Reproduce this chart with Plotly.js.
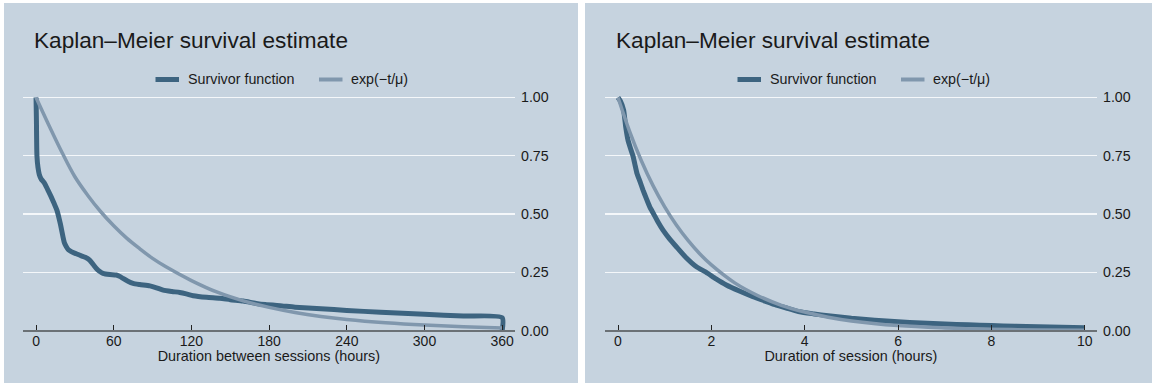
<!DOCTYPE html>
<html>
<head>
<meta charset="utf-8">
<script src="https://cdn.plot.ly/plotly-3.0.1.min.js"></script>
<style>html,body{margin:0;padding:0;background:#fff;}#chart{width:1156px;height:386px;}</style>
</head>
<body>
<div id="chart"></div>
<script>
// ---- data ----
const chartTitle = "Kaplan–Meier survival estimate";
const seriesNames = ["Survivor function", "exp(−t/μ)"];

// Left panel: duration between sessions (hours)
const leftTime = [0, 0.3, 0.7, 1.5, 2.5, 4, 6.6, 9, 11.7, 14, 16.1, 18.7, 20.8, 22, 23.4, 25, 27.2, 31, 35, 38, 41.4, 44, 46.6, 49, 51.7, 57, 62, 65, 67.2, 71, 74.9, 80, 87.9, 93, 98.2, 105, 111, 116, 121.4, 131.7, 142, 150, 160, 170, 177, 190, 200, 220, 240, 266, 300, 330, 360, 360];
const leftSurv = [1, 0.9, 0.75, 0.7, 0.67, 0.65, 0.632, 0.605, 0.574, 0.545, 0.517, 0.46, 0.403, 0.375, 0.36, 0.347, 0.339, 0.33, 0.321, 0.315, 0.303, 0.285, 0.267, 0.255, 0.246, 0.241, 0.239, 0.232, 0.224, 0.212, 0.203, 0.198, 0.192, 0.184, 0.174, 0.168, 0.164, 0.158, 0.15, 0.143, 0.139, 0.133, 0.127, 0.117, 0.112, 0.106, 0.101, 0.094, 0.087, 0.079, 0.07, 0.063, 0.056, 0];
const leftExpTime = [0, 10, 20, 30, 40, 50, 60, 70, 80, 90, 100, 120, 140, 160, 180, 200, 220, 240, 270, 300, 330, 360];
const leftExp = [1, 0.88, 0.765, 0.66, 0.58, 0.51, 0.45, 0.397, 0.352, 0.31, 0.275, 0.215, 0.165, 0.128, 0.1, 0.078, 0.061, 0.048, 0.034, 0.024, 0.017, 0.012];

// Right panel: duration of session (hours)
const rightTime = [0, 0.05, 0.12, 0.165, 0.214, 0.27, 0.32, 0.36, 0.407, 0.47, 0.536, 0.61, 0.68, 0.765, 0.86, 0.964, 1.1, 1.25, 1.45, 1.68, 1.89, 2.1, 2.32, 2.6, 2.89, 3.15, 3.39, 3.65, 3.89, 4.2, 4.5, 5, 5.5, 6, 6.5, 7, 7.5, 8, 8.5, 9, 9.5, 10];
const rightSurv = [1, 0.985, 0.946, 0.874, 0.817, 0.78, 0.75, 0.715, 0.674, 0.64, 0.603, 0.565, 0.531, 0.5, 0.465, 0.431, 0.395, 0.36, 0.315, 0.274, 0.25, 0.222, 0.196, 0.17, 0.146, 0.127, 0.11, 0.095, 0.081, 0.072, 0.064, 0.053, 0.045, 0.038, 0.033, 0.029, 0.025, 0.022, 0.019, 0.017, 0.015, 0.013];
const rightExpTime = [0, 0.25, 0.5, 0.75, 1, 1.25, 1.5, 1.75, 2, 2.5, 3, 3.5, 4, 4.5, 5, 6, 7, 8, 9, 10];
const rightExp = [1, 0.854, 0.729, 0.622, 0.531, 0.453, 0.387, 0.33, 0.282, 0.205, 0.15, 0.109, 0.08, 0.058, 0.042, 0.022, 0.012, 0.0063, 0.0034, 0.0018];

const leftTicks = [0, 60, 120, 180, 240, 300, 360];
const rightTicks = [0, 2, 4, 6, 8, 10];
const yTicks = [0, 0.25, 0.5, 0.75, 1];
const yTickLabels = ["0.00", "0.25", "0.50", "0.75", "1.00"];
const leftXTitle = "Duration between sessions (hours)";
const rightXTitle = "Duration of session (hours)";

// ---- styling ----
const W = 1156, H = 386;
const FONT = "Liberation Sans, Arial, Helvetica, sans-serif";
const BG = "#c6d3df";
const DARK = "#3d6480";
const LIGHT = "#8097ad";
const AXIS = "#6b7176";
const TXT = "#1a1a1a";
const px = v => v / W;
const py = v => (H - v) / H;

const traces = [
  {x: leftTime, y: leftSurv, xaxis: "x", yaxis: "y", mode: "lines", name: seriesNames[0],
   line: {color: DARK, width: 5, shape: "spline", smoothing: 0.6}, showlegend: false, hoverinfo: "skip"},
  {x: leftExpTime, y: leftExp, xaxis: "x", yaxis: "y", mode: "lines", name: seriesNames[1],
   line: {color: LIGHT, width: 3.5, shape: "spline"}, showlegend: false, hoverinfo: "skip"},
  {x: rightTime, y: rightSurv, xaxis: "x2", yaxis: "y2", mode: "lines", name: seriesNames[0],
   line: {color: DARK, width: 5, shape: "spline", smoothing: 0.5}, showlegend: false, hoverinfo: "skip"},
  {x: rightExpTime, y: rightExp, xaxis: "x2", yaxis: "y2", mode: "lines", name: seriesNames[1],
   line: {color: LIGHT, width: 3.5, shape: "spline"}, showlegend: false, hoverinfo: "skip"}
];

const yDomain = [py(340), py(88)];
const yRange = [-0.0399, 1.0407];
const axisPos = py(330.7);

function xAxis(domain, range, ticks, title) {
  return {
    domain: domain, range: range, anchor: "free", position: axisPos,
    tickmode: "array", tickvals: ticks, ticktext: ticks.map(String),
    ticks: "inside", ticklen: 5, tickwidth: 1, tickcolor: "#222",
    ticklabelstandoff: -3,
    showline: true, linecolor: AXIS, linewidth: 2,
    showgrid: false, zeroline: false,
    tickfont: {family: FONT, size: 14, color: TXT},
    title: {text: title, font: {family: FONT, size: 14.4, color: TXT}, standoff: 0},
    fixedrange: true
  };
}
function yAxis(anchorX) {
  return {
    domain: yDomain, range: yRange, anchor: anchorX, side: "right",
    tickmode: "array", tickvals: yTicks, ticktext: yTickLabels,
    ticks: "", ticklabelstandoff: 5,
    showline: false, zeroline: false,
    showgrid: true, gridcolor: "#f4f7fa", gridwidth: 1.3,
    tickfont: {family: FONT, size: 14.2, color: TXT},
    fixedrange: true
  };
}

const offset = 582;
const shapes = [
  {type: "rect", xref: "paper", yref: "paper", x0: px(4), x1: px(578), y0: py(383), y1: py(3), fillcolor: BG, line: {width: 0}, layer: "below"},
  {type: "rect", xref: "paper", yref: "paper", x0: px(585), x1: px(1152), y0: py(383), y1: py(3), fillcolor: BG, line: {width: 0}, layer: "below"}
];
const annotations = [];
[0, offset].forEach(o => {
  annotations.push({xref: "paper", yref: "paper", x: px(32 + o), y: py(40.5), xanchor: "left", yanchor: "middle",
    text: chartTitle, showarrow: false, font: {family: FONT, size: 22.6, color: TXT}});
  // legend
  shapes.push({type: "line", xref: "paper", yref: "paper", x0: px(155.5 + o), x1: px(179 + o), y0: py(79.5), y1: py(79.5), line: {color: DARK, width: 5}});
  shapes.push({type: "line", xref: "paper", yref: "paper", x0: px(319 + o), x1: px(342.5 + o), y0: py(79.5), y1: py(79.5), line: {color: LIGHT, width: 4}});
  annotations.push({xref: "paper", yref: "paper", x: px(186 + o), y: py(79.5), xanchor: "left", yanchor: "middle",
    text: seriesNames[0], showarrow: false, font: {family: FONT, size: 14.3, color: TXT}});
  annotations.push({xref: "paper", yref: "paper", x: px(349 + o), y: py(79.5), xanchor: "left", yanchor: "middle",
    text: seriesNames[1], showarrow: false, font: {family: FONT, size: 14.3, color: TXT}});
});

const layout = {
  width: W, height: H,
  margin: {l: 0, r: 0, t: 0, b: 0, pad: 0},
  paper_bgcolor: "#ffffff", plot_bgcolor: "rgba(0,0,0,0)",
  font: {family: FONT, color: TXT},
  showlegend: false,
  xaxis: xAxis([px(22.7), px(515)], [-10.3, 369.9], leftTicks, leftXTitle),
  yaxis: yAxis("x"),
  xaxis2: xAxis([px(604.7), px(1097)], [-0.285, 10.26], rightTicks, rightXTitle),
  yaxis2: yAxis("x2"),
  shapes: shapes,
  annotations: annotations
};

Plotly.newPlot("chart", traces, layout, {staticPlot: true, displayModeBar: false});
</script>
</body>
</html>
